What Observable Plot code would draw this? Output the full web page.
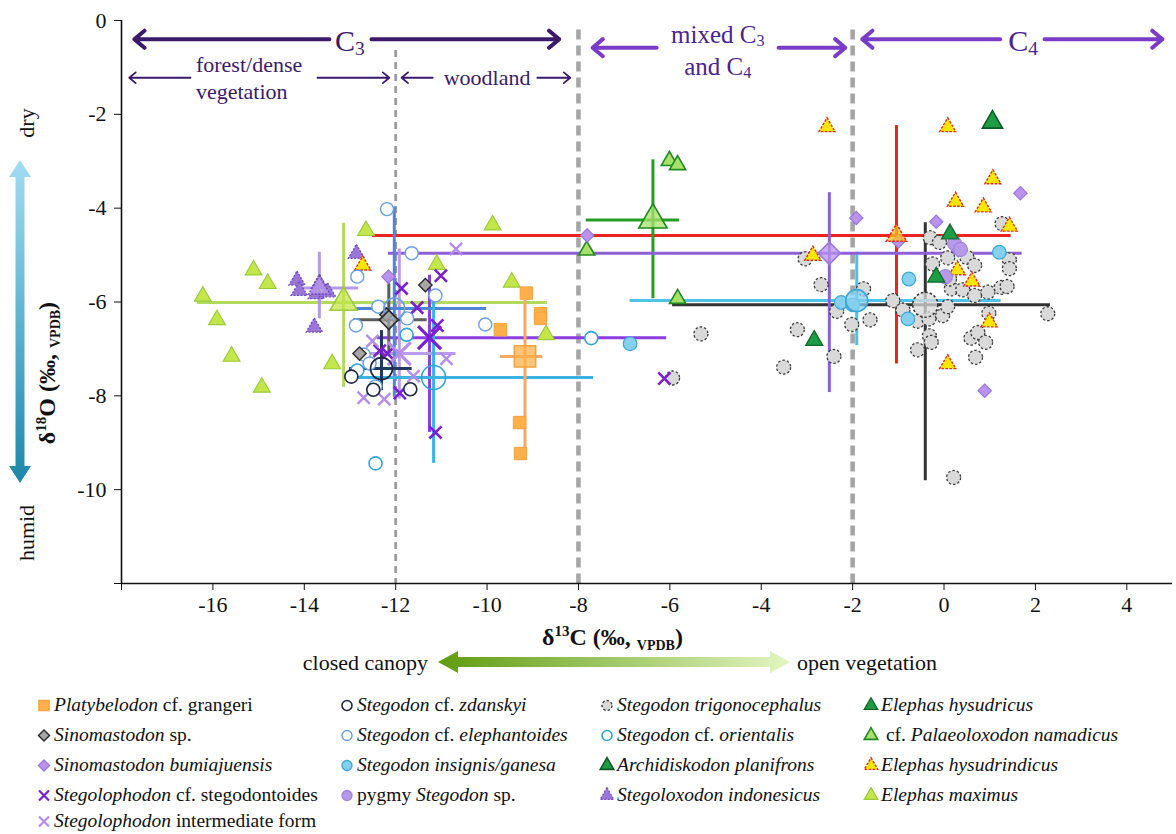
<!DOCTYPE html>
<html><head><meta charset="utf-8">
<script src="https://cdn.jsdelivr.net/npm/d3@7"></script>
<script src="https://cdn.jsdelivr.net/npm/@observablehq/plot@0.6"></script>
<style>
body{margin:0;background:#fff;font-family:"Liberation Serif","Times New Roman",serif;}
#wrap{position:relative;width:1176px;height:834px;overflow:hidden;background:#fff;}
#chart{position:absolute;left:0;top:0;}
.lg{position:absolute;display:flex;align-items:center;font-size:19.5px;white-space:nowrap;line-height:1;color:#111;}
.lg svg{margin-right:3px;overflow:visible;}
</style></head><body><div id="wrap"><div id="chart"></div><div id="legend"></div></div>
<script>
// ---------- axis ticks ----------
const xTicks = [-18,-16,-14,-12,-10,-8,-6,-4,-2,0,2,4];
const yTicks = [0,-2,-4,-6,-8,-10,-12];

// ---------- individual specimens [d13C, d18O] ----------
const platybelodon = [[-9.14,-5.81],[-8.83,-6.25],[-8.83,-6.35],[-9.71,-6.59],[-9.29,-8.57],[-9.27,-9.23]];
const sinomastodonSp = [[-11.35,-5.64],[-12.20,-6.27],[-12.79,-7.10]];
const bumiajuensis = [[-12.16,-5.46],[-7.81,-4.58],[-1.92,-4.21],[-0.17,-4.29],[1.67,-3.68],[0.89,-7.89],[-1.00,-4.71],[0.31,-4.90]];
const stegodontoides = [[-11.01,-5.44],[-11.87,-5.71],[-11.53,-6.12],[-11.09,-6.50],[-12.35,-7.04],[-12.18,-7.10],[-11.91,-7.94],[-11.13,-8.78],[-6.12,-7.63]];
const intermediateForm = [[-10.68,-4.87],[-10.89,-7.21],[-11.61,-7.58],[-12.25,-8.07],[-12.70,-8.04],[-12.51,-6.83]];
const zdanskyi = [[-12.97,-7.59],[-12.49,-7.87],[-11.68,-7.86]];
const elephantoides = [[-12.19,-4.02],[-11.65,-4.96],[-12.84,-5.46],[-11.13,-5.86],[-12.38,-6.10],[-12.87,-6.50],[-11.75,-6.35],[-10.04,-6.48],[-12.70,-7.12],[-12.57,-7.31],[-12.44,-7.80]];
const orientalis = [[-12.84,-7.46],[-11.76,-6.70],[-12.44,-9.44],[-7.72,-6.77]];
const trigonocephalus = [[-3.04,-5.08],[-2.69,-5.63],[-2.35,-6.20],[-1.76,-5.72],[-1.62,-6.38],[-2.02,-6.48],[-2.41,-7.16],[-3.21,-6.59],[-3.51,-7.39],[-5.32,-6.68],[-5.94,-7.62],[-1.12,-5.97],
  [-0.30,-4.63],[-0.10,-4.73],[0.08,-5.06],[0.50,-5.05],[0.67,-5.22],[1.43,-5.10],[1.43,-5.29],[1.27,-4.33],[-0.25,-5.19],[0.16,-5.72],[0.41,-5.74],[0.67,-5.86],[0.96,-5.79],[1.25,-5.69],[1.38,-5.67],[0.12,-5.51],
  [-0.90,-6.17],[-0.58,-6.41],[-0.33,-6.36],[-0.03,-6.29],[0.08,-6.10],[0.98,-6.24],[-0.32,-6.72],[-0.28,-6.86],[-0.58,-7.02],[0.59,-6.77],[0.74,-6.65],[0.91,-6.86],[0.69,-7.18],[2.27,-6.25],[0.21,-9.74]];
const insignis = [[-6.87,-6.89],[-2.25,-6.01],[-2.00,-6.06],[1.21,-4.94],[-0.77,-5.51],[-0.79,-6.36]];
const pygmyStegodon = [[0.23,-4.75],[0.36,-4.88],[0.03,-5.46]];
const planifrons = [[1.06,-2.17]];
const indonesicus = [[-12.86,-4.97],[-14.16,-5.54],[-14.11,-5.76],[-13.67,-5.61],[-13.74,-5.83],[-13.49,-5.79],[-13.78,-6.54]];
const hysudricus = [[-2.84,-6.82],[0.13,-4.55],[-0.17,-5.47]];
const namadicus = [[-6.01,-2.99],[-5.83,-3.08],[-5.83,-5.93],[-7.82,-4.90]];
const hysudrindicus = [[-2.56,-2.27],[-2.87,-5.01],[0.08,-2.27],[1.07,-3.38],[0.25,-3.86],[0.86,-3.98],[1.43,-4.39],[0.29,-5.32],[0.61,-5.56],[0.99,-6.43],[0.08,-7.32],[-12.72,-5.22]];
const maximus = [[-16.22,-5.88],[-15.91,-6.38],[-15.59,-7.16],[-15.11,-5.32],[-14.80,-5.61],[-14.93,-7.82],[-13.39,-7.32],[-12.65,-4.48],[-9.88,-4.36],[-11.10,-5.20],[-9.46,-5.58],[-8.71,-6.70]];

// ---------- taxon summaries: [mean d13C, mean d18O, d13C min, d13C max, d18O max, d18O min] ----------
const platybelodonSummary = [-9.17,-7.16,-9.71,-8.78,-5.97,-9.23];
const sinomastodonSpSummary = [-12.15,-6.38,-12.92,-11.31,-5.61,-7.10];
const bumiajuensisSummary = [-2.51,-4.96,-12.16,1.71,-3.67,-7.93];
const stegodontoidesSummary = [-11.26,-6.76,-12.40,-6.07,-5.43,-8.78];
const intermediateSummary = [-11.92,-7.10,-12.70,-10.68,-4.87,-8.07];
const zdanskyiSummary = [-12.31,-7.42,-13.01,-11.64,-6.61,-7.89];
const elephantoidesSummary = [-12.03,-6.14,-12.88,-10.01,-3.98,-8.03];
const orientalisSummary = [-11.17,-7.61,-12.95,-7.67,-5.75,-9.44];
const trigonocephalusSummary = [-0.41,-6.06,-5.94,2.33,-4.31,-9.81];
const insignisSummary = [-1.91,-5.97,-6.87,1.25,-4.94,-6.93];
const namadicusSummary = [-6.37,-4.25,-7.83,-5.79,-2.97,-5.93];
const hysudrindicusSummary = [-1.04,-4.58,-12.51,1.47,-2.24,-7.32];
const indonesicusSummary = [-13.67,-5.70,-14.07,-12.81,-4.94,-6.36];
const maximusSummary = [-13.14,-6.01,-16.34,-8.68,-4.32,-7.82];

// ---------- vegetation zones ----------
const zoneBoundaries = [-12,-8,-2];
const zoneArrowsMain = [ // from label outward
  {x1:-13.45,x2:-17.72,y:-0.40,c:"#3b1a6b"},{x1:-12.53,x2:-8.42,y:-0.40,c:"#3b1a6b"},
  {x1:-6.29,x2:-7.69,y:-0.58,c:"#7a3cc6"},{x1:-3.62,x2:-2.16,y:-0.58,c:"#7a3cc6"},
  {x1:1.23,x2:-1.79,y:-0.40,c:"#7a3cc6"},{x1:2.20,x2:4.78,y:-0.40,c:"#7a3cc6"}
];
const zoneArrowsSub = [
  {x1:-16.49,x2:-17.83,y:-1.22},{x1:-13.71,x2:-12.14,y:-1.22},
  {x1:-11.19,x2:-11.87,y:-1.22},{x1:-8.90,x2:-8.18,y:-1.22}
];
const zoneLabels = [
  {t:"C",s:"3",x:-12.99,y:-0.42,size:30,c:"#3b1a6b",a:"middle"},
  {t:"forest/dense",x:-16.36,y:-0.93,size:22,c:"#3b1a6b",a:"start"},
  {t:"vegetation",x:-16.36,y:-1.52,size:22,c:"#3b1a6b",a:"start"},
  {t:"woodland",x:-9.99,y:-1.22,size:22,c:"#3b1a6b",a:"middle"},
  {t:"mixed C",s:"3",x:-4.94,y:-0.30,size:25,c:"#4a2390",a:"middle"},
  {t:"and C",s:"4",x:-4.94,y:-0.98,size:25,c:"#4a2390",a:"middle"},
  {t:"C",s:"4",x:1.74,y:-0.42,size:30,c:"#4a2390",a:"middle"}
];

// ---------- styles ----------
const taxa = [
  {id:"trigo", pts:trigonocephalus, sum:trigonocephalusSummary, sym:"circle", fill:"#d9d9d9", stroke:"#3a3a3a", sw:1.3, dash:"2.5,2", r:7, mr:12.5, line:"#333333", label:"<i>Stegodon trigonocephalus</i>"},
  {id:"maximus", pts:maximus, sum:maximusSummary, sym:"triangle", fill:"#c3e64a", stroke:"#9ccc3a", sw:1.2, r:6.2, mr:10, line:"#b2db5e", label:"<i>Elephas maximus</i>"},
  {id:"indon", pts:indonesicus, sum:indonesicusSummary, sym:"triangle", fill:"#9b76da", stroke:"#6f4cb8", sw:1.3, dash:"2,1.5", r:6, mr:8, mfill:"#b89ae8", line:"#b598ea", label:"<i>Stegoloxodon indonesicus</i>"},
  {id:"hysudrind", pts:hysudrindicus, sum:hysudrindicusSummary, sym:"triangle", fill:"#ffe600", stroke:"#e3261c", sw:1.4, dash:"2.5,1.5", r:6, mr:7.5, mfill:"#ffc21a", line:"#ec2320", label:"<i>Elephas hysudrindicus</i>"},
  {id:"insig", pts:insignis, sum:insignisSummary, sym:"circle", fill:"#86d0ee", stroke:"#3ea7d6", sw:1.2, r:6.8, mr:11, line:"#4fc2ea", label:"<i>Stegodon insignis/ganesa</i>"},
  {id:"namad", pts:namadicus, sum:namadicusSummary, sym:"triangle", fill:"#a8e06a", stroke:"#1f8a1f", sw:1.6, r:6, mr:10.5, line:"#23a023", label:"&nbsp;cf. <i>Palaeoloxodon namadicus</i>"},
  {id:"bumi", pts:bumiajuensis, sum:bumiajuensisSummary, sym:"diamond2", fill:"#b993ec", stroke:"#9b76dc", sw:1.2, r:6, mr:10, line:"#8f5fd8", label:"<i>Sinomastodon bumiajuensis</i>"},
  {id:"stegoloph", pts:stegodontoides, sum:stegodontoidesSummary, sym:"times", fill:"none", stroke:"#7a1fd0", sw:2.6, r:5.6, mr:10.5, line:"#8b3ee2", label:"<i>Stegolophodon</i> cf. stegodontoides"},
  {id:"interm", pts:intermediateForm, sum:intermediateSummary, sym:"times", fill:"none", stroke:"#b48de8", sw:2.4, r:5.6, mr:10.5, line:"#bb9cec", label:"<i>Stegolophodon</i> intermediate form"},
  {id:"eleph", pts:elephantoides, sum:elephantoidesSummary, sym:"circle", fill:"white", stroke:"#6a9fe2", sw:1.4, r:6.5, mr:10.5, line:"#4f86d8", label:"<i>Stegodon</i> cf. <i>elephantoides</i>"},
  {id:"orient", pts:orientalis, sum:orientalisSummary, sym:"circle", fill:"white", stroke:"#2ea6d4", sw:1.6, r:6.5, mr:12, line:"#3ab2e2", label:"<i>Stegodon</i> cf. <i>orientalis</i>"},
  {id:"zdan", pts:zdanskyi, sum:zdanskyiSummary, sym:"circle", fill:"white", stroke:"#1d2740", sw:1.6, r:6.5, mr:11, line:"#1f3a60", label:"<i>Stegodon</i> cf. <i>zdanskyi</i>"},
  {id:"sinoSp", pts:sinomastodonSp, sum:sinomastodonSpSummary, sym:"diamond2", fill:"#a6a6a6", stroke:"#2a2a2a", sw:1.4, r:6, mr:8.5, line:"#5c5c5c", label:"<i>Sinomastodon</i> sp."},
  {id:"platy", pts:platybelodon, sum:platybelodonSummary, sym:"square", fill:"#fdb04a", stroke:"#f6a23e", sw:1, r:7, mr:12, line:"#f5a763", label:"<i>Platybelodon</i> cf. grangeri"},
  {id:"pygmy", pts:pygmyStegodon, sym:"circle", fill:"#b69ae8", stroke:"#a083de", sw:1.2, r:7, label:"pygmy <i>Stegodon</i> sp."},
  {id:"hysudricus", pts:hysudricus, sym:"triangle", fill:"#1e9b45", stroke:"#0e6a2a", sw:1.3, r:6.3, label:"<i>Elephas hysudricus</i>"},
  {id:"planif", pts:planifrons, sym:"triangle", fill:"#1e9b45", stroke:"#0e5a24", sw:1.6, r:7.5, label:"<i>Archidiskodon planifrons</i>"}
];

const marks = [];
// zone boundaries
marks.push(Plot.ruleX([zoneBoundaries[0]], {x:d=>d, y1:-0.64, y2:-12, stroke:"#9c9c9c", strokeWidth:2.8, strokeDasharray:"7,5"}));
marks.push(Plot.ruleX(zoneBoundaries.slice(1), {x:d=>d, y1:-0.2, y2:-12, stroke:"#a6a6a6", strokeWidth:4.6, strokeDasharray:"10,6"}));
// axes lines
marks.push(Plot.ruleY([-12], {stroke:"#111", strokeWidth:1.6}));
marks.push(Plot.ruleX([-18], {stroke:"#111", strokeWidth:1.6}));
// zone arrows
marks.push(Plot.arrow(zoneArrowsMain, {x1:"x1", x2:"x2", y1:"y", y2:"y", stroke:"c", strokeWidth:4, headLength:5, headAngle:80}));
marks.push(Plot.arrow(zoneArrowsSub, {x1:"x1", x2:"x2", y1:"y", y2:"y", stroke:"#3b1a6b", strokeWidth:1.8, headLength:7, headAngle:80}));
// error bars (ranges)
for (const t of taxa) if (t.sum) {
  marks.push(Plot.ruleY([t.sum], {y:d=>d[1], x1:d=>d[2], x2:d=>d[3], stroke:t.line, strokeWidth:3}));
  marks.push(Plot.ruleX([t.sum], {x:d=>d[0], y1:d=>d[4], y2:d=>d[5], stroke:t.line, strokeWidth:3}));
}
// specimens
for (const t of taxa) {
  marks.push(Plot.dot(t.pts, {x:d=>d[0], y:d=>d[1], symbol:t.sym, r:t.r, fill:t.fill, stroke:t.stroke, strokeWidth:t.sw, strokeDasharray:t.dash}));
}
// means
for (const t of taxa) if (t.sum) {
  marks.push(Plot.dot([t.sum], {x:d=>d[0], y:d=>d[1], symbol:t.sym, r:t.mr, fill:t.fill==="white"?"none":(t.mfill||t.fill), fillOpacity:0.75, stroke:t.stroke, strokeWidth:t.sym==="times"?3.2:Math.max(t.sw,1.6), strokeDasharray:t.dash}));
}

const plot = Plot.plot({
  width:1176, height:690,
  marginLeft:121, marginRight:4, marginTop:20, marginBottom:107,
  style:{fontFamily:"'Liberation Serif','Times New Roman',serif", fontSize:"22px", color:"#111", background:"white", overflow:"visible"},
  x:{domain:[-18,5], ticks:xTicks, tickSize:7, tickPadding:6, tickFormat:d=>d===-18?"":String(d), label:null},
  y:{domain:[-12,0], ticks:yTicks, tickSize:7, tickPadding:8, tickFormat:d=>d===-12?"":String(d), label:null},
  marks
});
document.getElementById("chart").appendChild(plot);

const sx = plot.scale("x"), sy = plot.scale("y");
const svg = d3.select(plot);
const ff = "'Liberation Serif','Times New Roman',serif";

// zone labels
for (const z of zoneLabels) {
  const tx = svg.append("text").attr("x", sx.apply(z.x)).attr("y", sy.apply(z.y))
    .attr("text-anchor", z.a).attr("dominant-baseline","central")
    .attr("font-family", ff).attr("font-size", z.size).attr("fill", z.c);
  tx.append("tspan").text(z.t);
  if (z.s) tx.append("tspan").attr("font-size", z.size*0.65).attr("dy", z.size*0.28).text(z.s);
}

// defs for gradients
const defs = svg.append("defs");
const g1 = defs.append("linearGradient").attr("id","gv").attr("x1",0).attr("x2",0).attr("y1",0).attr("y2",1);
g1.append("stop").attr("offset","0%").attr("stop-color","#a3dcf3");
g1.append("stop").attr("offset","100%").attr("stop-color","#1c88a9");
const g2 = defs.append("linearGradient").attr("id","gh").attr("x1",0).attr("x2",1).attr("y1",0).attr("y2",0);
g2.append("stop").attr("offset","0%").attr("stop-color","#5f9c10");
g2.append("stop").attr("offset","100%").attr("stop-color","#e2f5c0");

// vertical humid/dry arrow
{
  const x = 20, y0 = 160, y1 = 483, sw = 4.5, hw = 11, hl = 17;
  svg.append("path").attr("fill","url(#gv)")
    .attr("d", `M${x},${y0} L${x+hw},${y0+hl} L${x+sw},${y0+hl} L${x+sw},${y1-hl} L${x+hw},${y1-hl} L${x},${y1} L${x-hw},${y1-hl} L${x-sw},${y1-hl} L${x-sw},${y0+hl} L${x-hw},${y0+hl} Z`);
  svg.append("text").attr("transform",`translate(${x+6},123) rotate(-90)`).attr("text-anchor","middle").attr("dominant-baseline","central")
    .attr("font-family",ff).attr("font-size",22).attr("fill","#111").text("dry");
  svg.append("text").attr("transform",`translate(${x+6},533) rotate(-90)`).attr("text-anchor","middle").attr("dominant-baseline","central")
    .attr("font-family",ff).attr("font-size",22).attr("fill","#111").text("humid");
}
// horizontal canopy arrow
{
  const y = 662, x0 = 438, x1 = 790, sw = 5, hw = 11, hl = 20;
  svg.append("path").attr("fill","url(#gh)")
    .attr("d", `M${x0},${y} L${x0+hl},${y-hw} L${x0+hl},${y-sw} L${x1-hl},${y-sw} L${x1-hl},${y-hw} L${x1},${y} L${x1-hl},${y+hw} L${x1-hl},${y+sw} L${x0+hl},${y+sw} L${x0+hl},${y+hw} Z`);
  svg.append("text").attr("x",428).attr("y",y).attr("text-anchor","end").attr("dominant-baseline","central")
    .attr("font-family",ff).attr("font-size",22).attr("fill","#111").text("closed canopy");
  svg.append("text").attr("x",797).attr("y",y).attr("text-anchor","start").attr("dominant-baseline","central")
    .attr("font-family",ff).attr("font-size",22).attr("fill","#111").text("open vegetation");
}
// axis titles
function axisTitle(sel, main, sup) {
  sel.attr("font-family",ff).attr("font-size",24).attr("font-weight","bold").attr("fill","#111");
  sel.append("tspan").text("δ");
  sel.append("tspan").attr("font-size",15).attr("dy",-9).text(sup);
  sel.append("tspan").attr("dy",9).text(main + " (‰, ");
  sel.append("tspan").attr("font-size",14).attr("dy",5).text("VPDB");
  sel.append("tspan").attr("dy",-5).text(")");
}
axisTitle(svg.append("text").attr("x",542).attr("y",645).attr("text-anchor","start"), "C", "13");
axisTitle(svg.append("text").attr("transform","translate(55,373) rotate(-90)").attr("text-anchor","middle"), "O", "18");

// ---------- legend ----------
const legendCols = [
  {x:44, ids:["platy","sinoSp","bumi","stegoloph","interm"]},
  {x:347, ids:["zdan","eleph","insig","pygmy"]},
  {x:607, ids:["trigo","orient","planif","indon"]},
  {x:871, ids:["hysudricus","namad","hysudrind","maximus"]}
];
const legendRows = [705,735,765,795,821];
const symMap = {circle:d3.symbolCircle, square:d3.symbolSquare, diamond2:d3.symbolDiamond2, times:d3.symbolTimes, triangle:d3.symbolTriangle};
const leg = d3.select("#legend");
legendCols.forEach(col => col.ids.forEach((id, i) => {
  const t = taxa.find(d => d.id === id);
  const item = leg.append("div").attr("class","lg").style("left", (col.x - 7) + "px").style("top", (legendRows[i] - 11) + "px").style("height","22px");
  const s = item.append("svg").attr("width",14).attr("height",14);
  const rr = t.sym === "times" ? 4.6 : (t.sym === "square" ? 5.8 : 5);
  s.append("path").attr("transform","translate(7,7.5)")
    .attr("d", d3.symbol(symMap[t.sym], Math.PI*rr*rr)())
    .attr("fill", t.fill).attr("stroke", t.stroke).attr("stroke-width", t.sym==="times"?2.2:Math.max(t.sw,1.3)).attr("stroke-dasharray", t.dash || null);
  item.append("span").html(t.label);
}));
</script></body></html>
